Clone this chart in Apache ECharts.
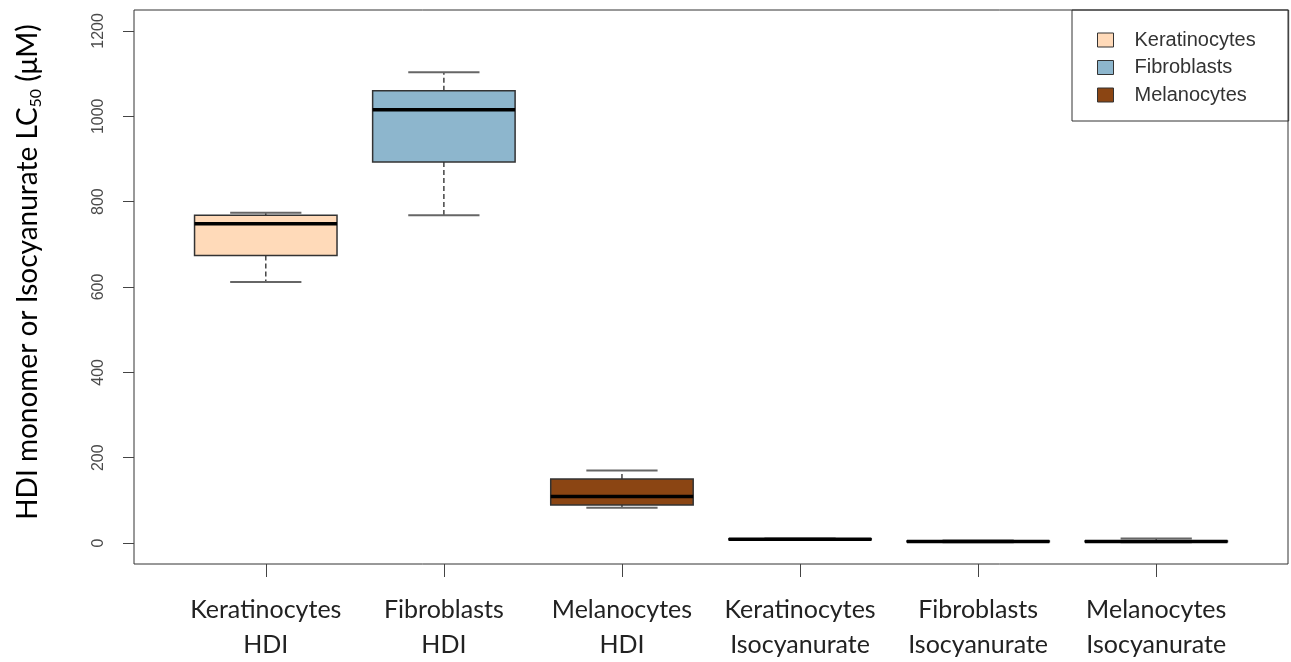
<!DOCTYPE html>
<html><head><meta charset="utf-8">
<script src="https://cdn.jsdelivr.net/npm/echarts@6/dist/echarts.min.js"></script>
<style>html,body{margin:0;padding:0;background:#fff}#c{width:1291px;height:662px}</style>
</head><body><div id="c"></div>
<script>
// ---- data ----
const categories = ['Keratinocytes\nHDI','Fibroblasts\nHDI','Melanocytes\nHDI','Keratinocytes\nIsocyanurate','Fibroblasts\nIsocyanurate','Melanocytes\nIsocyanurate'];
const cellTypes = ['Keratinocytes','Fibroblasts','Melanocytes'];
const groupOfCategory = [0,1,2,0,1,2];
const lowerWhisker = [612, 768, 83, 7, 2, 2];
const q1 =           [674, 893, 89, 8, 3, 3];
const median =       [748, 1015, 109, 9, 4, 4];
const q3 =           [768, 1060, 150, 10, 5, 5];
const upperWhisker = [774, 1103, 170, 11, 6, 11];
const yTicks = [0, 200, 400, 600, 800, 1000, 1200];
const colors = ['#FFDAB9', '#8DB6CD', '#8B4513'];

const xPositions = categories.map((c, i) => i + 1);

function renderBox(params, api) {
  const x = api.value(0);
  const lo = api.value(1), a = api.value(2), m = api.value(3), b = api.value(4), hi = api.value(5);
  const unit = api.size([1, 0])[0];
  const bh = unit * 0.4, sh = unit * 0.2;
  const pLo = api.coord([x, lo]), pA = api.coord([x, a]), pM = api.coord([x, m]), pB = api.coord([x, b]), pHi = api.coord([x, hi]);
  const cx = pM[0];
  const fill = api.visual('color');
  const dashStyle = {stroke: '#444', lineWidth: 1.5, lineDash: [5, 3]};
  const stapleStyle = {stroke: '#666', lineWidth: 2};
  return {
    type: 'group',
    children: [
      {type: 'line', shape: {x1: cx, y1: pB[1], x2: cx, y2: pHi[1]}, style: dashStyle},
      {type: 'line', shape: {x1: cx, y1: pA[1], x2: cx, y2: pLo[1]}, style: dashStyle},
      {type: 'line', shape: {x1: cx - sh, y1: pHi[1], x2: cx + sh, y2: pHi[1]}, style: stapleStyle},
      {type: 'line', shape: {x1: cx - sh, y1: pLo[1], x2: cx + sh, y2: pLo[1]}, style: stapleStyle},
      {type: 'rect', shape: {x: cx - bh, y: pB[1], width: 2 * bh, height: pA[1] - pB[1]}, style: {fill: fill, stroke: '#333', lineWidth: 1.5}},
      {type: 'line', shape: {x1: cx - bh, y1: pM[1], x2: cx + bh, y2: pM[1]}, style: {stroke: '#000', lineWidth: 3.5}}
    ]
  };
}

const series = cellTypes.map((name, g) => ({
  name: name,
  type: 'custom',
  renderItem: renderBox,
  itemStyle: {color: colors[g], borderColor: '#333', borderWidth: 1},
  encode: {x: 0, y: [1, 2, 3, 4, 5]},
  data: categories.map((c, i) => i).filter(i => groupOfCategory[i] === g)
    .map(i => [xPositions[i], lowerWhisker[i], q1[i], median[i], q3[i], upperWhisker[i]])
}));

const chart = echarts.init(document.getElementById('c'));
chart.setOption({
  animation: false,
  backgroundColor: '#fff',
  grid: {left: 134, right: 3, top: 10, bottom: 97, show: true, borderColor: '#333', borderWidth: 1, backgroundColor: 'transparent'},
  xAxis: {
    type: 'value', min: 0.26, max: 6.74,
    axisLine: {show: false, onZero: false},
    splitLine: {show: false},
    axisTick: {show: true, customValues: xPositions, length: 13, lineStyle: {color: '#444'}},
    axisLabel: {customValues: xPositions, formatter: v => categories[Math.round(v) - 1] || '', fontFamily: 'Lato', fontSize: 25, lineHeight: 35, color: '#222', margin: 28}
  },
  yAxis: {
    type: 'value', min: -49, max: 1249,
    axisLine: {show: false},
    splitLine: {show: false},
    axisTick: {show: true, customValues: yTicks, length: 11, lineStyle: {color: '#444'}},
    axisLabel: {customValues: yTicks, formatter: v => String(v), rotate: 90, fontFamily: 'Liberation Sans', fontSize: 16, color: '#4a4a4a', margin: 27}
  },
  legend: {
    left: 1072, top: 10, orient: 'vertical',
    borderColor: '#333', borderWidth: 1, padding: [20, 33, 16, 25],
    itemWidth: 16, itemHeight: 14, itemGap: 7.5,
    icon: 'rect',
    textStyle: {fontFamily: 'Liberation Sans', fontSize: 20, color: '#333', padding: [0, 0, 0, 16]},
    data: cellTypes.map((n, g) => ({name: n, itemStyle: {color: colors[g], borderColor: '#333', borderWidth: 1}}))
  },
  graphic: [{
    type: 'text', x: 28, y: 272, rotation: Math.PI / 2,
    style: {
      text: '{a|HDI monomer or Isocyanurate LC}{s|50}{a| (μM)}',
      align: 'center', verticalAlign: 'middle',
      rich: {
        a: {fontFamily: 'Lato', fontSize: 28, color: '#222', lineHeight: 32},
        s: {fontFamily: 'Lato', fontSize: 16, color: '#222', lineHeight: 16, verticalAlign: 'bottom'}
      }
    }
  }],
  series: series
});
</script></body></html>
